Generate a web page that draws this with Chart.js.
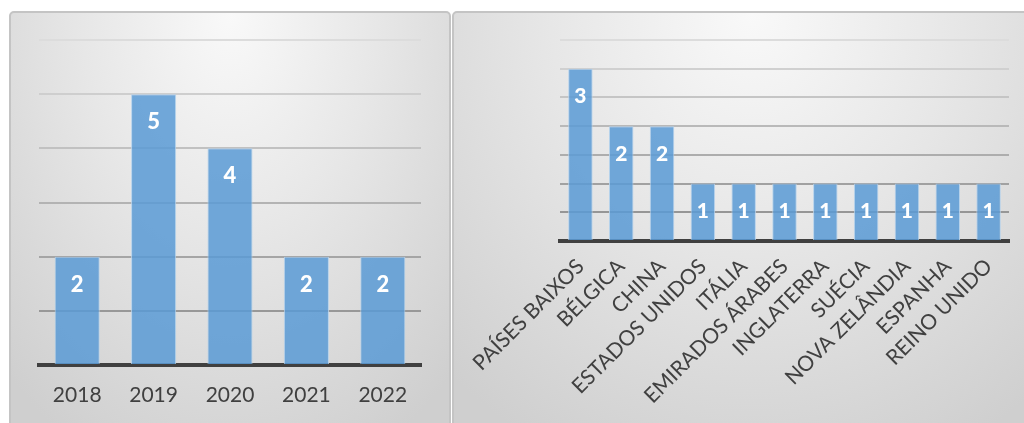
<!DOCTYPE html>
<html lang="pt">
<head>
    <meta charset="UTF-8">
    <title>Publicações por ano e por país</title>
    <style>
        body {
            margin: 0;
            width: 1024px;
            height: 423px;
            overflow: hidden;
            background: #fff;
            font-family: Lato, "Open Sans", sans-serif;
        }

        .panel {
            position: absolute;
            box-sizing: border-box;
            border: 2px solid #c4c4c4;
            border-radius: 5px 5px 0 0;
            background: radial-gradient(ellipse 75% 115% at 50% 0%, #f9f9f9 0%, #e7e7e7 45%, #cfcfcf 100%);
        }

        #leftPanel {
            left: 9px;
            top: 11px;
            width: 442px;
            height: 430px;
        }

        #rightPanel {
            left: 452px;
            top: 11px;
            width: 600px;
            height: 430px;
        }

        .wrap {
            position: absolute;
        }

        #leftWrap {
            left: 9px;
            top: 11px;
            width: 441px;
            height: 412px;
        }

        #rightWrap {
            left: 453px;
            top: 11px;
            width: 571px;
            height: 412px;
        }
    </style>
</head>
<body>
    <div class="panel" id="leftPanel"></div>
    <div class="panel" id="rightPanel"></div>
    <div class="wrap" id="leftWrap"><canvas id="yearChart"></canvas></div>
    <div class="wrap" id="rightWrap"><canvas id="countryChart"></canvas></div>

    <script src="https://cdn.jsdelivr.net/npm/chart.js"></script>
    <script>
        // publicações por ano
        const years = ['2018', '2019', '2020', '2021', '2022'];
        const yearCounts = [2, 5, 4, 2, 2];

        // publicações por país
        const countries = ['PAÍSES BAIXOS', 'BÉLGICA', 'CHINA', 'ESTADOS UNIDOS', 'ITÁLIA',
            'EMIRADOS ÁRABES', 'INGLATERRA', 'SUÉCIA', 'NOVA ZELÂNDIA', 'ESPANHA', 'REINO UNIDO'];
        const countryCounts = [3, 2, 2, 1, 1, 1, 1, 1, 1, 1, 1];

        const barFill = 'rgba(91, 155, 213, 0.86)';
        const barEdge = 'rgba(178, 208, 236, 0.9)';
        const textColor = '#404040';

        // grid lines get darker towards the bottom, like the original
        function gridShade(ctx, max) {
            if (ctx.tick.value === 0) return 'rgba(0,0,0,0)';
            const t = ctx.tick.value / max;
            const c = Math.round(138 + (220 - 138) * t);
            return `rgb(${c}, ${c}, ${c})`;
        }

        // white numbers inside the top of each bar
        const valueLabels = {
            id: 'valueLabels',
            afterDatasetsDraw(chart, args, opts) {
                const ctx = chart.ctx;
                const meta = chart.getDatasetMeta(0);
                const data = chart.data.datasets[0].data;
                ctx.save();
                ctx.fillStyle = '#fff';
                ctx.font = `900 ${opts.size}px Lato, "Open Sans", sans-serif`;
                ctx.textAlign = 'center';
                ctx.textBaseline = 'middle';
                meta.data.forEach((bar, i) => {
                    ctx.fillText(String(data[i]), bar.x, bar.y + opts.offset);
                });
                ctx.restore();
            }
        };

        function makeChart(id, labels, values, cfg) {
            return new Chart(document.getElementById(id), {
                type: 'bar',
                data: {
                    labels: labels,
                    datasets: [{
                        data: values,
                        backgroundColor: barFill,
                        borderColor: barEdge,
                        borderWidth: 1,
                        categoryPercentage: 1,
                        barPercentage: cfg.barPct
                    }]
                },
                plugins: [valueLabels],
                options: {
                    responsive: true,
                    maintainAspectRatio: false,
                    animation: false,
                    layout: { padding: cfg.padding },
                    plugins: {
                        legend: { display: false },
                        tooltip: { enabled: false },
                        valueLabels: { size: cfg.valueSize, offset: 28 }
                    },
                    scales: {
                        x: {
                            grid: { display: false, drawTicks: false },
                            border: { color: '#404040', width: 4 },
                            ticks: {
                                color: textColor,
                                font: { family: 'Lato', size: cfg.tickSize },
                                padding: cfg.tickPad,
                                minRotation: cfg.rotation,
                                maxRotation: cfg.rotation,
                                autoSkip: false
                            },
                            afterFit: s => { s.height = cfg.xHeight; }
                        },
                        y: {
                            min: 0,
                            max: cfg.max,
                            ticks: { display: false, stepSize: cfg.step },
                            border: { display: false },
                            grid: {
                                drawTicks: false,
                                lineWidth: 2,
                                color: c => gridShade(c, cfg.max)
                            },
                            afterFit: s => { s.width = 0; }
                        }
                    }
                }
            });
        }

        makeChart('yearChart', years, yearCounts, {
            barPct: 0.59,
            padding: { left: 30, right: 29, top: 29, bottom: 0 },
            valueSize: 22,
            tickSize: 21,
            tickPad: 18,
            rotation: 0,
            xHeight: 58,
            max: 6,
            step: 1
        });

        makeChart('countryChart', countries, countryCounts, {
            barPct: 0.6,
            padding: { left: 107, right: 15, top: 29, bottom: 0 },
            valueSize: 21,
            tickSize: 21,
            tickPad: 13,
            rotation: 45,
            xHeight: 182,
            max: 3.5,
            step: 0.5
        });
    </script>
</body>
</html>
